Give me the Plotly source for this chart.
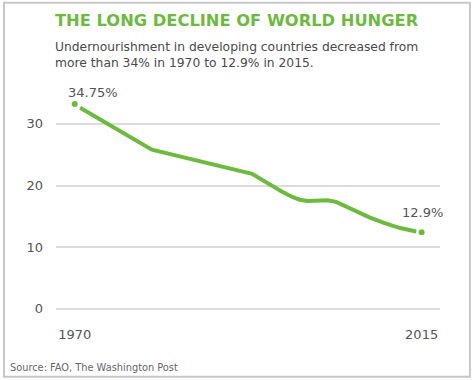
import plotly.graph_objects as go

# ---- data ----
line_years = [1970.7, 1980.0, 1993.0, 1994.3, 1995.6, 1996.9, 1998.3, 1999.2, 2000.2,
              2001.5, 2002.8, 2003.9, 2005.0, 2006.4, 2008.3, 2010.2, 2012.2, 2014.3]
line_values = [32.6, 25.8, 21.9, 20.9, 19.9, 19.0, 18.1, 17.7, 17.5,
               17.6, 17.6, 17.35, 16.7, 15.9, 14.8, 13.9, 13.1, 12.55]
end_years = [1970, 2015]
end_values = [33.2, 12.4]
end_labels = ["34.75%", "12.9%"]
y_ticks = [0, 10, 20, 30]
x_ticks = [1970, 2015]
x_tick_labels = ["1970", "2015"]

GREEN = "#6cbb3f"
GRAY = "#555555"
FONT = "DejaVu Sans"

fig = go.Figure()
fig.add_trace(go.Scatter(x=line_years, y=line_values, mode="lines",
                         line=dict(color=GREEN, width=4), hoverinfo="skip"))
fig.add_trace(go.Scatter(x=end_years, y=end_values, mode="markers",
                         marker=dict(color=GREEN, size=6), hoverinfo="skip"))

# endpoint labels
fig.add_annotation(x=end_years[0], y=end_values[0], text=end_labels[0], showarrow=False,
                   xanchor="left", yanchor="middle", xshift=-9, yshift=12,
                   font=dict(family=FONT, size=13, color=GRAY))
fig.add_annotation(x=end_years[1], y=end_values[1], text=end_labels[1], showarrow=False,
                   xanchor="center", yanchor="middle", xshift=1, yshift=20,
                   font=dict(family=FONT, size=13, color=GRAY))

# titles
fig.add_annotation(xref="paper", yref="paper", x=0, y=1.325, text="<b>THE LONG DECLINE OF WORLD HUNGER</b>",
                   showarrow=False, xanchor="left", yanchor="middle", xshift=-3,
                   font=dict(family=FONT, size=16.3, color=GREEN))
fig.add_annotation(xref="paper", yref="paper", x=0, y=1.172,
                   text="Undernourishment in developing countries decreased from<br>more than 34% in 1970 to 12.9% in 2015.",
                   showarrow=False, xanchor="left", yanchor="middle", align="left", xshift=-3,
                   font=dict(family=FONT, size=12.3, color="#4a4a4a"))
fig.add_annotation(xref="paper", yref="paper", x=-0.117, y=-0.238, text="Source: FAO, The Washington Post",
                   showarrow=False, xanchor="left", yanchor="middle", xshift=-3,
                   font=dict(family=FONT, size=9.8, color="#666666"))

# border
fig.add_shape(type="rect", xref="paper", yref="paper", x0=-0.1354, x1=1.078, y0=-0.278, y1=1.406,
              line=dict(color="#c8c8c8", width=2), fillcolor="rgba(0,0,0,0)", layer="below")

fig.update_layout(
    width=474, height=380,
    margin=dict(l=56, r=34, t=93, b=65),
    paper_bgcolor="white", plot_bgcolor="white",
    showlegend=False,
    xaxis=dict(range=[1967.57, 2017.38], tickvals=x_ticks, ticktext=x_tick_labels,
               showgrid=False, zeroline=False, showline=False, ticks="",
               ticklabelstandoff=10,
               tickfont=dict(family=FONT, size=13, color=GRAY), fixedrange=True),
    yaxis=dict(range=[-1, 35], tickvals=y_ticks, showgrid=True, gridcolor="#dcdcdc", gridwidth=1.5,
               zeroline=False, showline=False, ticks="", ticklabelstandoff=12,
               tickfont=dict(family=FONT, size=13, color=GRAY), fixedrange=True),
)

fig.write_html("out.html", config={"displayModeBar": False},
               post_script="document.body.style.margin='0';document.body.style.overflow='hidden';")
